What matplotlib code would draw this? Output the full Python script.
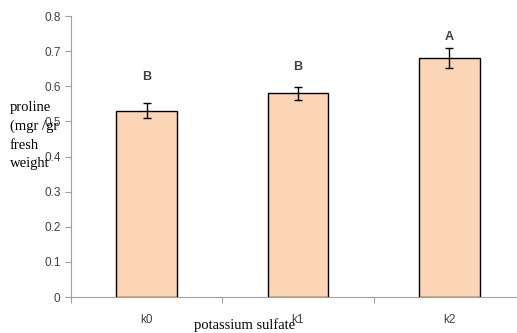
import matplotlib.pyplot as plt
import numpy as np

categories = ["k0", "k1", "k2"]
proline = [0.53, 0.58, 0.68]
errors = [0.021, 0.019, 0.028]
letters = ["B", "B", "A"]
letter_y = [0.627, 0.654, 0.741]

fig = plt.figure(figsize=(5.17, 3.33), dpi=100)
ax = fig.add_axes([0.1373, 0.1081, 0.878, 0.8438])

x = np.arange(len(categories)) + 0.5
ax.bar(x, proline, width=0.4, color="#FBD5B5", edgecolor="black", linewidth=1.0)
ax.errorbar(x, proline, yerr=errors, fmt="none", ecolor="black",
            elinewidth=1.0, capsize=3, capthick=1.0)
for xi, lab, ly in zip(x, letters, letter_y):
    ax.text(xi, ly, lab, ha="center", va="center", fontsize=9,
            fontweight="bold", color="#404040", family="Liberation Sans")

ax.set_xlim(0, 3)
ax.set_ylim(0, 0.8)
ax.set_yticks(np.arange(0, 0.81, 0.1))
ax.set_yticklabels(["0"] + [f"{v:.1f}" for v in np.arange(0.1, 0.81, 0.1)])
ax.set_xticks([0, 1, 2, 3])
ax.set_xticklabels([])
ax.set_xticks(x, minor=True)
ax.set_xticklabels(categories, minor=True)
ax.tick_params(axis="x", which="minor", length=0, pad=12)
ax.tick_params(axis="x", which="major", length=4, color="#a0a0a0")
ax.tick_params(axis="y", length=4, color="#a0a0a0")
for lab in ax.get_yticklabels() + ax.get_xticklabels(minor=True):
    lab.set_family("Liberation Sans")
    lab.set_fontsize(8.5)
    lab.set_color("#404040")

for s in ["top", "right"]:
    ax.spines[s].set_visible(False)
ax.spines["left"].set_color("#a0a0a0")
ax.spines["bottom"].set_color("#a0a0a0")

fig.text(10 / 517, 1 - 101 / 333, "proline\n(mgr /gr\nfresh\nweight", ha="left", va="top",
         family="Liberation Serif", fontsize=10.5, linespacing=1.55)
fig.text(245 / 517, 1 - 325 / 333, "potassium sulfate", ha="center", va="center",
         family="Liberation Serif", fontsize=10.5)

fig.savefig("out.png", dpi=100)
